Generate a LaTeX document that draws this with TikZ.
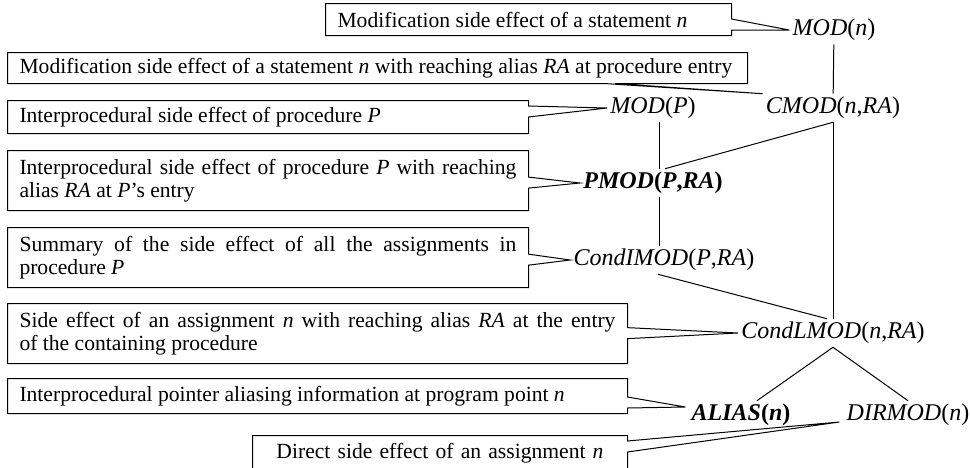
\documentclass[tikz,border=0pt]{standalone}
\usepackage{fontspec}
\setmainfont{Liberation Serif}
\usetikzlibrary{shapes.callouts, calc}

\begin{document}
\hyphenpenalty=10000
\tolerance=9999
\begin{tikzpicture}[x=0.5pt, y=-0.5pt,
    term/.style={font=\fontsize{12}{14}\selectfont\itshape, inner sep=1.5pt},
    note/.style={draw, rectangle callout, anchor=north west, inner xsep=6pt, inner ysep=0pt,
      align=justify, line width=0.5pt, callout pointer width=5.5pt,
      font=\fontsize{10.8}{11.7}\selectfont},
    link/.style={line width=0.5pt}]
    \useasboundingbox (0,0) rectangle (970,467);
    \clip (0,0) rectangle (970,467);

    % Terms
    \node[term] (modn) at (834, 30) {MOD\textup{(}n\textup{)}};
    \node[term] (cmod) at (833, 108) {CMOD\textup{(}n\textup{,}RA\textup{)}};
    \node[term] (modp) at (653, 108) {MOD\textup{(}P\textup{)}};
    \node[term, font=\fontsize{12}{14}\selectfont\bfseries\itshape] (pmod) at (653, 183) {PMOD\textup{(}P\textup{,}RA\textup{)}};
    \node[term] (condimod) at (664, 260) {CondIMOD\textup{(}P\textup{,}RA\textup{)}};
    \node[term] (condlmod) at (833, 333) {CondLMOD\textup{(}n\textup{,}RA\textup{)}};
    \node[term, font=\fontsize{12}{14}\selectfont\bfseries\itshape] (alias) at (741, 415) {ALIAS\textup{(}n\textup{)}};
    \node[term] (dirmod) at (908, 415) {DIRMOD\textup{(}n\textup{)}};

    % Links
    \draw[link] (modn) -- (cmod);
    \draw[link] (cmod.south) -- ($(pmod.north)+(12,0)$);
    \draw[link] ($(modp.south)+(6,0)$) -- ($(pmod.north)+(6,0)$);
    \draw[link] ($(pmod.south)+(6,0)$) -- ($(condimod.north)+(-5,0)$);
    \draw[link] (cmod.south) -- (condlmod.north);
    \draw[link] ($(condimod.south)+(-6,0)$) -- ($(condlmod.north)+(-6,0)$);
    \draw[link] (condlmod.south) -- ($(alias.north)+(16,0)$);
    \draw[link] (condlmod.south) -- (dirmod.north);

    % Explanations
    \node[note, text width=191pt, minimum height=16pt, callout absolute pointer={(modn.west)}] (n1) at (325, 3)
      {Modification side effect of a statement \textit{n}};
    \node[note, text width=358pt, minimum height=15.5pt, callout absolute pointer={(cmod.north west)}] (n2) at (7, 52)
      {Modification side effect of a statement \textit{n} with reaching alias \textit{RA} at procedure entry};
    \node[note, text width=248.5pt, minimum height=16.5pt, callout absolute pointer={(modp.west)}] (n3) at (7, 100)
      {Interprocedural side effect of procedure \textit{P}};
    \node[note, text width=248.5pt, minimum height=30pt, callout absolute pointer={(pmod.west)}] (n4) at (7, 150)
      {Interprocedural side effect of procedure \textit{P} with reaching\linebreak alias \textit{RA} at \textit{P}'s entry};
    \node[note, text width=248.5pt, minimum height=30pt, callout absolute pointer={(condimod.west)}] (n5) at (7, 227)
      {Summary of the side effect of all the assignments in\linebreak procedure \textit{P}};
    \node[note, text width=298pt, minimum height=30pt, callout absolute pointer={(condlmod.west)}] (n6) at (7, 303)
      {Side effect of an assignment \textit{n} with reaching alias \textit{RA} at the entry\linebreak of the containing procedure};
    \node[note, text width=298pt, minimum height=17.5pt, callout absolute pointer={($(alias.west)+(-3,-8)$)}] (n7) at (7, 378)
      {Interprocedural pointer aliasing information at program point \textit{n}};
    \node[note, text width=175.5pt, minimum height=17.5pt, align=center, callout absolute pointer={($(dirmod.west)+(-4,7)$)}] (n8) at (252, 435)
      {Direct side effect of an assignment \textit{n}};
\end{tikzpicture}
\end{document}
